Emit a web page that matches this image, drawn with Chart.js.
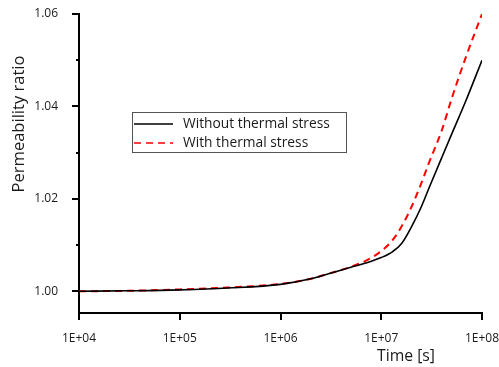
<!DOCTYPE html>
<html>
<head>
<meta charset="utf-8">
<script src="https://cdn.jsdelivr.net/npm/chart.js@4/dist/chart.umd.min.js"></script>
<style>
  html, body { margin: 0; padding: 0; background: #fff; }
  canvas { display: block; }
</style>
</head>
<body>
<canvas id="permChart" width="499" height="367"></canvas>
<script>
// values
const times = [1e4, 3e4, 1e5, 3e5, 1e6, 2e6, 3e6, 5e6, 7e6, 1e7, 1.3e7, 1.6e7, 2e7, 2.5e7, 3e7, 4e7, 5e7, 7e7, 1e8]
const withoutStress = [1.0000, 1.0001, 1.0003, 1.0007, 1.0015, 1.0027, 1.0038, 1.0052, 1.0061, 1.0073, 1.0086, 1.0104, 1.0140, 1.0183, 1.0225, 1.0290, 1.0340, 1.0415, 1.0500]
const withStress = [1.0000, 1.0001, 1.0004, 1.0008, 1.0016, 1.0027, 1.0038, 1.0053, 1.0066, 1.0087, 1.0111, 1.0141, 1.0183, 1.0234, 1.0280, 1.0349, 1.0417, 1.0510, 1.0600]
const seriesLabels = ["Without thermal stress", "With thermal stress"]

const xTicks = [1e4, 1e5, 1e6, 1e7, 1e8]
const xTickLabels = ["1E+04", "1E+05", "1E+06", "1E+07", "1E+08"]
const yTicks = [1.00, 1.01, 1.02, 1.03, 1.04, 1.05, 1.06]
const yTickLabels = ["1.00", "", "1.02", "", "1.04", "", "1.06"]

const FONT = '"Open Sans", sans-serif'

function pts(ys){
  return times.map((t, i) => ({x: t, y: ys[i]}))
}

// pick a font size so the text is about as wide as in the picture
function fitFont(ctx, text, width){
  ctx.font = "20px " + FONT
  const s = 20 * width / ctx.measureText(text).width
  return s.toFixed(2) + "px " + FONT
}

// tick marks, axis titles and the boxed legend
const extras = {
  id: "extras",
  afterDraw(chart){
    const ctx = chart.ctx
    const xs = chart.scales.x, ys = chart.scales.y
    const area = chart.chartArea
    ctx.save()
    ctx.strokeStyle = "#000"
    ctx.lineWidth = 2
    xTicks.forEach(v => {
      const px = Math.round(xs.getPixelForValue(v))
      ctx.beginPath(); ctx.moveTo(px, area.bottom); ctx.lineTo(px, area.bottom + 7); ctx.stroke()
    })
    yTicks.forEach((v, i) => {
      const py = Math.round(ys.getPixelForValue(v))
      const len = yTickLabels[i] ? 7 : 3
      ctx.beginPath(); ctx.moveTo(area.left - len, py); ctx.lineTo(area.left, py); ctx.stroke()
    })

    ctx.fillStyle = "#1a1a1a"
    ctx.textAlign = "center"
    ctx.textBaseline = "middle"
    ctx.font = fitFont(ctx, "Time [s]", 58)
    ctx.fillText("Time [s]", 406, 357)
    ctx.translate(19, 124)
    ctx.rotate(-Math.PI / 2)
    ctx.font = fitFont(ctx, "Permeability ratio", 137)
    ctx.fillText("Permeability ratio", 0, 0)
    ctx.restore()

    // legend
    ctx.save()
    ctx.fillStyle = "#fff"
    ctx.fillRect(132.5, 112.5, 214, 40)
    ctx.strokeStyle = "#555"
    ctx.lineWidth = 1
    ctx.strokeRect(132.5, 112.5, 214, 40)
    const legendFont = fitFont(ctx, seriesLabels[0], 147)
    chart.data.datasets.forEach((ds, i) => {
      const y = 124 + i * 19
      ctx.strokeStyle = ds.borderColor
      ctx.lineWidth = 1.5
      ctx.setLineDash(ds.borderDash || [])
      ctx.beginPath(); ctx.moveTo(134, y); ctx.lineTo(173, y); ctx.stroke()
      ctx.setLineDash([])
      ctx.fillStyle = "#1a1a1a"
      ctx.font = legendFont
      ctx.textAlign = "left"
      ctx.textBaseline = "middle"
      ctx.fillText(ds.label, 183, y)
    })
    ctx.restore()
  }
}

new Chart(document.getElementById("permChart"), {
  type: "line",
  data: {
    datasets: [
      {
        label: seriesLabels[0],
        data: pts(withoutStress),
        borderColor: "#000",
        borderWidth: 1.6,
        pointRadius: 0,
        cubicInterpolationMode: "monotone",
        fill: false
      },
      {
        label: seriesLabels[1],
        data: pts(withStress),
        borderColor: "#ff0000",
        borderWidth: 2,
        borderDash: [7, 5],
        pointRadius: 0,
        cubicInterpolationMode: "monotone",
        fill: false
      }
    ]
  },
  options: {
    responsive: false,
    devicePixelRatio: 1,
    animation: false,
    layout: { padding: { top: 14, right: 17, left: 0, bottom: 0 } },
    plugins: { legend: { display: false }, tooltip: { enabled: false } },
    scales: {
      x: {
        type: "logarithmic",
        min: 1e4,
        max: 1e8,
        afterBuildTicks: s => { s.ticks = xTicks.map(v => ({value: v})) },
        afterFit: s => { s.height = 54; s.paddingLeft = 0; s.paddingRight = 0 },
        grid: { display: false },
        border: { display: true, color: "#000", width: 2 },
        ticks: {
          autoSkip: false,
          maxRotation: 0,
          padding: 10,
          color: "#1a1a1a",
          font: { family: FONT, size: 12 },
          callback: (v, i) => xTickLabels[i]
        }
      },
      y: {
        min: 0.9953,
        max: 1.06,
        afterBuildTicks: s => { s.ticks = yTicks.map(v => ({value: v})) },
        afterFit: s => { s.width = 79; s.paddingTop = 0; s.paddingBottom = 0 },
        grid: { display: false },
        border: { display: true, color: "#000", width: 2 },
        ticks: {
          padding: 13,
          color: "#1a1a1a",
          font: { family: FONT, size: 12 },
          callback: (v, i) => yTickLabels[i]
        }
      }
    }
  },
  plugins: [extras]
})
</script>
</body>
</html>
